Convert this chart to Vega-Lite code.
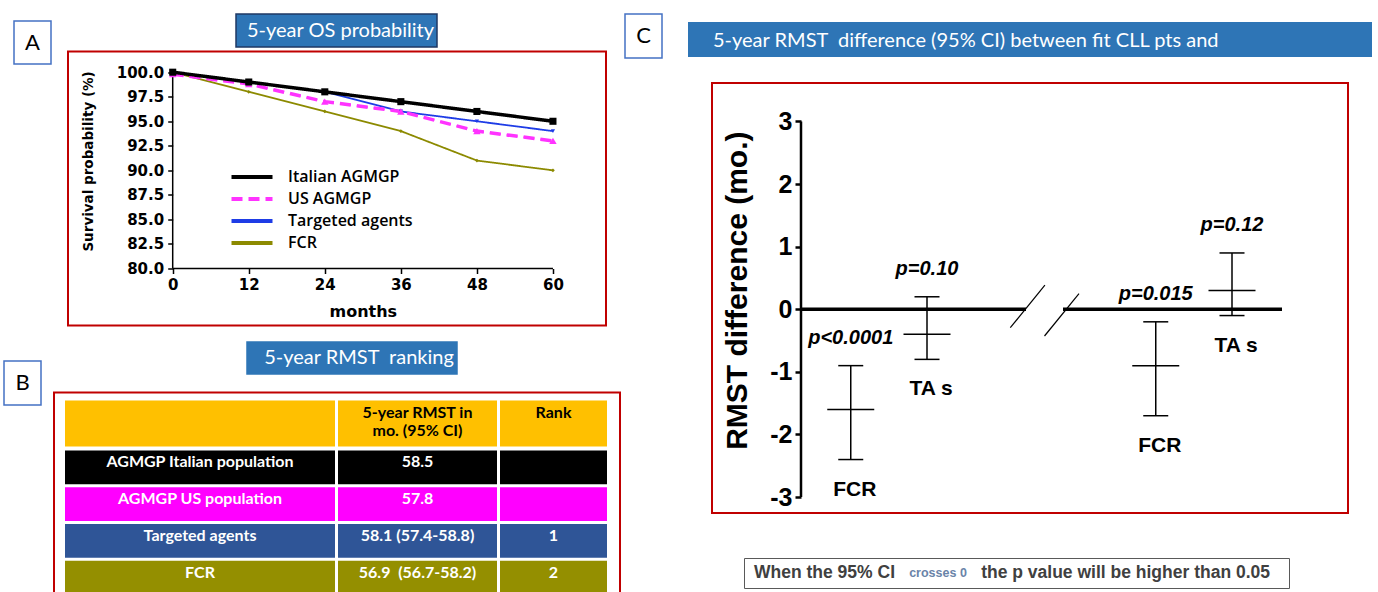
{
  "$schema": "https://vega.github.io/schema/vega-lite/v6.json",
  "background": "white",
  "padding": {"left": 3, "top": 13, "right": 0, "bottom": 0},
  "config": {"view": {"stroke": null}, "font": "Liberation Sans", "axis": {"labelOverlap": false}},
  "datasets": {
    "os": [
      {"series": "FCR", "month": 0, "survival": 100},
      {"series": "FCR", "month": 12, "survival": 98},
      {"series": "FCR", "month": 24, "survival": 96},
      {"series": "FCR", "month": 36, "survival": 94},
      {"series": "FCR", "month": 48, "survival": 91},
      {"series": "FCR", "month": 60, "survival": 90},
      {"series": "Targeted agents", "month": 0, "survival": 100},
      {"series": "Targeted agents", "month": 12, "survival": 99},
      {"series": "Targeted agents", "month": 24, "survival": 98},
      {"series": "Targeted agents", "month": 36, "survival": 96},
      {"series": "Targeted agents", "month": 48, "survival": 95},
      {"series": "Targeted agents", "month": 60, "survival": 94},
      {"series": "US AGMGP", "month": 0, "survival": 99.8},
      {"series": "US AGMGP", "month": 12, "survival": 98.8},
      {"series": "US AGMGP", "month": 24, "survival": 97},
      {"series": "US AGMGP", "month": 36, "survival": 96},
      {"series": "US AGMGP", "month": 48, "survival": 94},
      {"series": "US AGMGP", "month": 60, "survival": 93},
      {"series": "Italian AGMGP", "month": 0, "survival": 100},
      {"series": "Italian AGMGP", "month": 12, "survival": 99},
      {"series": "Italian AGMGP", "month": 24, "survival": 98},
      {"series": "Italian AGMGP", "month": 36, "survival": 97},
      {"series": "Italian AGMGP", "month": 48, "survival": 96},
      {"series": "Italian AGMGP", "month": 60, "survival": 95}
    ],
    "rmst": [
      {"slot": "FCR vs Italian AGMGP", "arm": "FCR", "mean": -1.6, "lo": -2.4, "hi": -0.9, "p": "p<0.0001"},
      {"slot": "TA s vs Italian AGMGP", "arm": "TA s", "mean": -0.4, "lo": -0.8, "hi": 0.2, "p": "p=0.10"},
      {"slot": "FCR vs US AGMGP", "arm": "FCR", "mean": -0.9, "lo": -1.7, "hi": -0.2, "p": "p=0.015"},
      {"slot": "TA s vs US AGMGP", "arm": "TA s", "mean": 0.3, "lo": -0.1, "hi": 0.9, "p": "p=0.12"}
    ],
    "table": [
      {"row": "AGMGP Italian population", "rmst": "58.5", "rank": ""},
      {"row": "AGMGP US population", "rmst": "57.8", "rank": ""},
      {"row": "Targeted agents", "rmst": "58.1 (57.4-58.8)", "rank": "1"},
      {"row": "FCR", "rmst": "56.9\u00a0 (56.7-58.2)", "rank": "2"}
    ],
    "tableHeader": [
      {"group": "", "rmst": ["5-year RMST in", "mo. (95% CI)"], "rank": "Rank"}
    ]
  },
  "spacing": 3,
  "hconcat": [
    {
      "spacing": 14,
      "vconcat": [
        {
          "spacing": 0,
          "hconcat": [
            {"width": 9, "height": 1, "view": {"fill": "white", "stroke": null}, "data": {"values": []}, "mark": "point"},
            {
              "spacing": 0,
              "vconcat": [
                {"width": 37, "height": 6, "view": {"fill": "white", "stroke": null}, "data": {"values": []}, "mark": "point"},
                {"width": 37, "height": 43, "view": {"fill": "white", "stroke": "#4472C4", "strokeWidth": 1.5}, "data": {"values": [{}]}, "mark": {"type": "text", "text": "A", "font": "Lato", "fontSize": 22, "color": "black"}}
              ]
            },
            {"width": 15, "height": 1, "view": {"fill": "white", "stroke": null}, "data": {"values": []}, "mark": "point"},
            {
              "spacing": 2.5,
              "vconcat": [
                {
                  "spacing": 0,
                  "hconcat": [
                    {"width": 167, "height": 1, "view": {"fill": "white", "stroke": null}, "data": {"values": []}, "mark": "point"},
                    {"width": 201, "height": 33, "view": {"fill": "#2E75B6", "stroke": "#1F3864", "strokeWidth": 1.5}, "data": {"values": [{}]}, "mark": {"type": "text", "text": "5-year OS probability", "font": "Lato", "fontSize": 20, "color": "white", "dx": 4}}
                  ]
                },
                {
                  "width": 538,
                  "height": 274,
                  "view": {"fill": "white", "stroke": "#C00000", "strokeWidth": 2},
                  "layer": [
                    {
                      "data": {"values": [{}]},
                      "mark": {"type": "rule", "color": "black", "strokeWidth": 1.5},
                      "encoding": {
                        "x": {"datum": 0, "type": "quantitative", "scale": {"domain": [-16.52, 68.37], "nice": false, "zero": false},
                          "axis": {"orient": "bottom", "offset": -57, "values": [0, 12, 24, 36, 48, 60], "tickCount": 20, "domain": false, "grid": false, "tickSize": 5, "tickWidth": 1.5, "tickColor": "black", "labelFont": "DejaVu Sans", "labelFontWeight": "bold", "labelFontSize": 15, "labelColor": "black", "labelPadding": 4, "labelFlush": false, "labelOverlap": false, "title": "months", "titleFont": "DejaVu Sans", "titleFontWeight": "bold", "titleFontSize": 16, "titleColor": "black", "titleX": 294.8, "titleY": 43, "titleBaseline": "middle"}},
                        "y": {"datum": 80, "type": "quantitative", "scale": {"domain": [74.193, 102.109], "nice": false, "zero": false},
                          "axis": {"orient": "left", "offset": -104.7, "values": [80, 82.5, 85, 87.5, 90, 92.5, 95, 97.5, 100], "tickCount": 20, "format": ".1f", "domain": false, "grid": false, "tickSize": 5, "tickWidth": 1.5, "tickColor": "black", "labelFont": "DejaVu Sans", "labelFontWeight": "bold", "labelFontSize": 15, "labelColor": "black", "labelPadding": 4, "labelFlush": false, "labelOverlap": false, "labelBound": false, "title": "Survival probability (%)", "titleFont": "DejaVu Sans", "titleFontWeight": "bold", "titleFontSize": 13.5, "titleColor": "black", "titleX": -84.4, "titleY": 109.4, "titleBaseline": "middle"}},
                        "y2": {"datum": 100}
                      }
                    },
                    {
                      "data": {"values": [{}]},
                      "mark": {"type": "rule", "color": "black", "strokeWidth": 1.5},
                      "encoding": {
                        "x": {"datum": 0, "type": "quantitative", "scale": {"domain": [-16.52, 68.37], "nice": false, "zero": false}},
                        "x2": {"datum": 60},
                        "y": {"datum": 80, "type": "quantitative", "scale": {"domain": [74.193, 102.109], "nice": false, "zero": false}}
                      }
                    },
                    {
                      "data": {"name": "os"},
                      "mark": {"type": "line", "strokeWidth": 1.8},
                      "encoding": {
                        "x": {"field": "month", "type": "quantitative", "scale": {"domain": [-16.52, 68.37], "nice": false, "zero": false}},
                        "y": {"field": "survival", "type": "quantitative", "scale": {"domain": [74.193, 102.109], "nice": false, "zero": false}},
                        "color": {
                          "field": "series", "type": "nominal",
                          "scale": {"domain": ["Italian AGMGP", "US AGMGP", "Targeted agents", "FCR"], "range": ["#000000", "#FF33FF", "#1E3CE6", "#8C8A00"]},
                          "legend": {"orient": "none", "legendX": 240, "legendY": 155, "title": null, "symbolType": "M-4.1,0H4.1", "symbolSize": 100, "symbolStrokeWidth": 4, "labelFont": "Open Sans", "labelFontWeight": 600, "labelFontSize": 16, "labelColor": "black", "labelOffset": 28, "rowPadding": 6, "padding": 0}
                        },
                        "strokeDash": {
                          "field": "series", "type": "nominal",
                          "scale": {"domain": ["Italian AGMGP", "US AGMGP", "Targeted agents", "FCR"], "range": [[1, 0], [11, 6], [1, 0], [1, 0]]}
                        }
                      }
                    },
                    {
                      "data": {"name": "os"},
                      "transform": [{"filter": {"field": "series", "oneOf": ["Italian AGMGP", "US AGMGP"]}}],
                      "mark": {"type": "line", "strokeWidth": 3.5},
                      "encoding": {
                        "x": {"field": "month", "type": "quantitative", "scale": {"domain": [-16.52, 68.37], "nice": false, "zero": false}},
                        "y": {"field": "survival", "type": "quantitative", "scale": {"domain": [74.193, 102.109], "nice": false, "zero": false}},
                        "color": {
                          "field": "series", "type": "nominal",
                          "scale": {"domain": ["Italian AGMGP", "US AGMGP", "Targeted agents", "FCR"], "range": ["#000000", "#FF33FF", "#1E3CE6", "#8C8A00"]},
                          "legend": {"orient": "none", "legendX": 240, "legendY": 155, "title": null, "symbolType": "M-4.1,0H4.1", "symbolSize": 100, "symbolStrokeWidth": 4, "labelFont": "Open Sans", "labelFontWeight": 600, "labelFontSize": 16, "labelColor": "black", "labelOffset": 28, "rowPadding": 6, "padding": 0}
                        },
                        "strokeDash": {
                          "field": "series", "type": "nominal",
                          "scale": {"domain": ["Italian AGMGP", "US AGMGP", "Targeted agents", "FCR"], "range": [[1, 0], [11, 6], [1, 0], [1, 0]]}
                        }
                      }
                    },
                    {
                      "data": {"name": "os"},
                      "transform": [{"filter": {"field": "series", "equal": "FCR"}}],
                      "mark": {"type": "point", "filled": true, "opacity": 1, "size": 14, "shape": "diamond", "color": "#8C8A00"},
                      "encoding": {
                        "x": {"field": "month", "type": "quantitative", "scale": {"domain": [-16.52, 68.37], "nice": false, "zero": false}},
                        "y": {"field": "survival", "type": "quantitative", "scale": {"domain": [74.193, 102.109], "nice": false, "zero": false}}
                      }
                    },
                    {
                      "data": {"name": "os"},
                      "transform": [{"filter": {"field": "series", "equal": "Targeted agents"}}],
                      "mark": {"type": "point", "filled": true, "opacity": 1, "size": 18, "shape": "triangle-down", "color": "#1E3CE6"},
                      "encoding": {
                        "x": {"field": "month", "type": "quantitative", "scale": {"domain": [-16.52, 68.37], "nice": false, "zero": false}},
                        "y": {"field": "survival", "type": "quantitative", "scale": {"domain": [74.193, 102.109], "nice": false, "zero": false}}
                      }
                    },
                    {
                      "data": {"name": "os"},
                      "transform": [{"filter": {"field": "series", "equal": "US AGMGP"}}],
                      "mark": {"type": "point", "filled": true, "opacity": 1, "size": 55, "shape": "triangle-up", "color": "#FF33FF"},
                      "encoding": {
                        "x": {"field": "month", "type": "quantitative", "scale": {"domain": [-16.52, 68.37], "nice": false, "zero": false}},
                        "y": {"field": "survival", "type": "quantitative", "scale": {"domain": [74.193, 102.109], "nice": false, "zero": false}}
                      }
                    },
                    {
                      "data": {"name": "os"},
                      "transform": [{"filter": {"field": "series", "equal": "Italian AGMGP"}}],
                      "mark": {"type": "point", "filled": true, "opacity": 1, "size": 50, "shape": "square", "color": "#000000"},
                      "encoding": {
                        "x": {"field": "month", "type": "quantitative", "scale": {"domain": [-16.52, 68.37], "nice": false, "zero": false}},
                        "y": {"field": "survival", "type": "quantitative", "scale": {"domain": [74.193, 102.109], "nice": false, "zero": false}}
                      }
                    }
                  ]
                }
              ]
            }
          ]
        },
        {
          "spacing": 0,
          "hconcat": [
            {
              "spacing": 0,
              "vconcat": [
                {"width": 37, "height": 18, "view": {"fill": "white", "stroke": null}, "data": {"values": []}, "mark": "point"},
                {"width": 37, "height": 44, "view": {"fill": "white", "stroke": "#4472C4", "strokeWidth": 1.5}, "data": {"values": [{}]}, "mark": {"type": "text", "text": "B", "font": "Lato", "fontSize": 22, "color": "black"}}
              ]
            },
            {"width": 11, "height": 1, "view": {"fill": "white", "stroke": null}, "data": {"values": []}, "mark": "point"},
            {
              "spacing": 16.5,
              "vconcat": [
                {
                  "spacing": 0,
                  "hconcat": [
                    {"width": 192, "height": 1, "view": {"fill": "white", "stroke": null}, "data": {"values": []}, "mark": "point"},
                    {"width": 210, "height": 32, "view": {"fill": "#2E75B6", "stroke": "#2E75B6", "strokeWidth": 1.5}, "data": {"values": [{}]}, "mark": {"type": "text", "text": "5-year RMST\u00a0 ranking", "font": "Lato", "fontSize": 20, "color": "white", "dx": 7}}
                  ]
                },
                {
                  "width": 566,
                  "height": 215,
                  "view": {"fill": "white", "stroke": "#C00000", "strokeWidth": 2},
                  "resolve": {"scale": {"x": "independent", "y": "independent"}},
                  "layer": [
                    {
                      "encoding": {"x": {"datum": "AGMGP group", "type": "nominal", "scale": {"type": "band", "domain": ["AGMGP group"], "range": [11, 281], "paddingInner": 0, "paddingOuter": 0}, "axis": null}},
                      "resolve": {"scale": {"y": "independent"}},
                      "layer": [
                        {
                          "data": {"name": "tableHeader"},
                          "mark": {"type": "rect", "color": "#FFC000"},
                          "encoding": {"y": {"datum": "header", "type": "nominal", "scale": {"type": "band", "domain": ["header"], "range": [8, 54], "paddingInner": 0, "paddingOuter": 0}, "axis": null}}
                        },
                        {
                          "data": {"name": "table"},
                          "encoding": {"y": {"field": "row", "type": "nominal", "scale": {"type": "band", "domain": ["AGMGP Italian population", "AGMGP US population", "Targeted agents", "FCR"], "range": [58, 202], "paddingInner": 0.08163, "paddingOuter": 0}, "axis": null}},
                          "layer": [
                            {"mark": {"type": "rect"}, "encoding": {"fill": {"field": "row", "type": "nominal", "scale": {"domain": ["AGMGP Italian population", "AGMGP US population", "Targeted agents", "FCR"], "range": ["#000000", "#FF00FF", "#2F5597", "#948F00"]}, "legend": null}}},
                            {"mark": {"type": "text", "font": "Lato", "fontWeight": "bold", "fontSize": 16, "color": "white", "dy": -5}, "encoding": {"text": {"field": "row", "type": "nominal"}}}
                          ]
                        }
                      ]
                    },
                    {
                      "encoding": {"x": {"datum": "5-year RMST in mo. (95% CI)", "type": "nominal", "scale": {"type": "band", "domain": ["5-year RMST in mo. (95% CI)"], "range": [284, 443], "paddingInner": 0, "paddingOuter": 0}, "axis": null}},
                      "resolve": {"scale": {"y": "independent"}},
                      "layer": [
                        {
                          "data": {"name": "tableHeader"},
                          "encoding": {"y": {"datum": "header", "type": "nominal", "scale": {"type": "band", "domain": ["header"], "range": [8, 54], "paddingInner": 0, "paddingOuter": 0}, "axis": null}},
                          "layer": [
                            {"mark": {"type": "rect", "color": "#FFC000"}},
                            {"mark": {"type": "text", "font": "Lato", "fontWeight": "bold", "fontSize": 16, "color": "black", "baseline": "top", "dy": -18.5, "lineHeight": 18}, "encoding": {"text": {"field": "rmst", "type": "nominal"}}}
                          ]
                        },
                        {
                          "data": {"name": "table"},
                          "encoding": {"y": {"field": "row", "type": "nominal", "scale": {"type": "band", "domain": ["AGMGP Italian population", "AGMGP US population", "Targeted agents", "FCR"], "range": [58, 202], "paddingInner": 0.08163, "paddingOuter": 0}, "axis": null}},
                          "layer": [
                            {"mark": {"type": "rect"}, "encoding": {"fill": {"field": "row", "type": "nominal", "scale": {"domain": ["AGMGP Italian population", "AGMGP US population", "Targeted agents", "FCR"], "range": ["#000000", "#FF00FF", "#2F5597", "#948F00"]}, "legend": null}}},
                            {"mark": {"type": "text", "font": "Lato", "fontWeight": "bold", "fontSize": 16, "color": "white", "dy": -5}, "encoding": {"text": {"field": "rmst", "type": "nominal"}}}
                          ]
                        }
                      ]
                    },
                    {
                      "encoding": {"x": {"datum": "Rank", "type": "nominal", "scale": {"type": "band", "domain": ["Rank"], "range": [446, 553], "paddingInner": 0, "paddingOuter": 0}, "axis": null}},
                      "resolve": {"scale": {"y": "independent"}},
                      "layer": [
                        {
                          "data": {"name": "tableHeader"},
                          "encoding": {"y": {"datum": "header", "type": "nominal", "scale": {"type": "band", "domain": ["header"], "range": [8, 54], "paddingInner": 0, "paddingOuter": 0}, "axis": null}},
                          "layer": [
                            {"mark": {"type": "rect", "color": "#FFC000"}},
                            {"mark": {"type": "text", "font": "Lato", "fontWeight": "bold", "fontSize": 16, "color": "black", "baseline": "top", "dy": -18.5}, "encoding": {"text": {"field": "rank", "type": "nominal"}}}
                          ]
                        },
                        {
                          "data": {"name": "table"},
                          "encoding": {"y": {"field": "row", "type": "nominal", "scale": {"type": "band", "domain": ["AGMGP Italian population", "AGMGP US population", "Targeted agents", "FCR"], "range": [58, 202], "paddingInner": 0.08163, "paddingOuter": 0}, "axis": null}},
                          "layer": [
                            {"mark": {"type": "rect"}, "encoding": {"fill": {"field": "row", "type": "nominal", "scale": {"domain": ["AGMGP Italian population", "AGMGP US population", "Targeted agents", "FCR"], "range": ["#000000", "#FF00FF", "#2F5597", "#948F00"]}, "legend": null}}},
                            {"mark": {"type": "text", "font": "Lato", "fontWeight": "bold", "fontSize": 16, "color": "white", "dy": -5}, "encoding": {"text": {"field": "rank", "type": "nominal"}}}
                          ]
                        }
                      ]
                    }
                  ]
                }
              ]
            }
          ]
        }
      ]
    },
    {
      "spacing": 23,
      "vconcat": [
        {
          "spacing": 25,
          "hconcat": [
            {"width": 37, "height": 44, "view": {"fill": "white", "stroke": "#4472C4", "strokeWidth": 1.5}, "data": {"values": [{}]}, "mark": {"type": "text", "text": "C", "font": "Lato", "fontSize": 22, "color": "black"}},
            {
              "spacing": 0,
              "vconcat": [
                {"width": 684, "height": 8, "view": {"fill": "white", "stroke": null}, "data": {"values": []}, "mark": "point"},
                {"width": 684, "height": 35, "view": {"fill": "#2E75B6", "stroke": null}, "data": {"values": [{}]}, "mark": {"type": "text", "text": "5-year RMST\u00a0 difference (95% CI) between fit CLL pts and", "font": "Lato", "fontSize": 20, "color": "white", "align": "left", "dx": -317, "dy": 1}}
              ]
            }
          ]
        },
        {
          "spacing": 43,
          "vconcat": [
            {
              "spacing": 0,
              "hconcat": [
                {"width": 86, "height": 1, "view": {"fill": "white", "stroke": null}, "data": {"values": []}, "mark": "point"},
                {
                  "width": 636,
                  "height": 430,
                  "view": {"fill": "white", "stroke": "#C00000", "strokeWidth": 2},
                  "resolve": {"scale": {"x": "independent"}},
                  "layer": [
                    {
                      "data": {"values": [{}]},
                      "layer": [
                        {
                          "mark": {"type": "rule", "color": "black", "strokeWidth": 2.5},
                          "encoding": {
                            "x": {"datum": -0.6525, "type": "quantitative", "scale": {"domain": [-1.8197, 6.5213], "nice": false, "zero": false}, "axis": null},
                            "y": {"datum": -3, "type": "quantitative", "scale": {"domain": [-3.254, 3.615], "nice": false, "zero": false},
                              "axis": {"orient": "left", "offset": -89, "values": [-3, -2, -1, 0, 1, 2, 3], "tickCount": 20, "labelExpr": "'' + datum.value", "domain": false, "grid": false, "tickSize": 6, "tickWidth": 2.5, "tickColor": "black", "labelFont": "Liberation Sans", "labelFontWeight": "bold", "labelFontSize": 25, "labelColor": "black", "labelPadding": 3, "labelFlush": false, "labelOverlap": false, "title": "RMST difference (mo.)", "titleFont": "Liberation Sans", "titleFontWeight": "bold", "titleFontSize": 30, "titleColor": "black", "titleX": -64, "titleY": 207.2, "titleBaseline": "middle"}},
                            "y2": {"datum": 3}
                          }
                        },
                        {
                          "mark": {"type": "rule", "color": "black", "strokeWidth": 3.5},
                          "encoding": {
                            "x": {"datum": -0.6525, "type": "quantitative", "scale": {"domain": [-1.8197, 6.5213], "nice": false, "zero": false}, "axis": null},
                            "x2": {"datum": 2.2984},
                            "y": {"datum": 0, "type": "quantitative", "scale": {"domain": [-3.254, 3.615], "nice": false, "zero": false}}
                          }
                        },
                        {
                          "mark": {"type": "rule", "color": "black", "strokeWidth": 3.5},
                          "encoding": {
                            "x": {"datum": 2.7836, "type": "quantitative", "scale": {"domain": [-1.8197, 6.5213], "nice": false, "zero": false}, "axis": null},
                            "x2": {"datum": 5.6557},
                            "y": {"datum": 0, "type": "quantitative", "scale": {"domain": [-3.254, 3.615], "nice": false, "zero": false}}
                          }
                        },
                        {
                          "mark": {"type": "rule", "color": "black", "strokeWidth": 1.2},
                          "encoding": {
                            "x": {"datum": 2.0925, "type": "quantitative", "scale": {"domain": [-1.8197, 6.5213], "nice": false, "zero": false}, "axis": null},
                            "x2": {"datum": 2.5462},
                            "y": {"datum": -0.294, "type": "quantitative", "scale": {"domain": [-3.254, 3.615], "nice": false, "zero": false}},
                            "y2": {"datum": 0.388}
                          }
                        },
                        {
                          "mark": {"type": "rule", "color": "black", "strokeWidth": 1.2},
                          "encoding": {
                            "x": {"datum": 2.541, "type": "quantitative", "scale": {"domain": [-1.8197, 6.5213], "nice": false, "zero": false}, "axis": null},
                            "x2": {"datum": 2.9934},
                            "y": {"datum": -0.4265, "type": "quantitative", "scale": {"domain": [-3.254, 3.615], "nice": false, "zero": false}},
                            "y2": {"datum": 0.249}
                          }
                        }
                      ]
                    },
                    {
                      "data": {"name": "rmst"},
                      "encoding": {
                        "x": {"field": "slot", "type": "nominal", "scale": {"type": "point", "domain": ["FCR vs Italian AGMGP", "TA s vs Italian AGMGP", "axis break a", "axis break b", "FCR vs US AGMGP", "TA s vs US AGMGP"], "range": [138.75, 520], "padding": 0}, "axis": null}
                      },
                      "layer": [
                        {
                          "mark": {"type": "rule", "color": "black", "strokeWidth": 1.5},
                          "encoding": {
                            "y": {"field": "lo", "type": "quantitative", "scale": {"domain": [-3.254, 3.615], "nice": false, "zero": false}},
                            "y2": {"field": "hi"}
                          }
                        },
                        {
                          "mark": {"type": "tick", "color": "black", "thickness": 1.5, "size": 25, "opacity": 1},
                          "encoding": {"y": {"field": "lo", "type": "quantitative", "scale": {"domain": [-3.254, 3.615], "nice": false, "zero": false}}}
                        },
                        {
                          "mark": {"type": "tick", "color": "black", "thickness": 1.5, "size": 25, "opacity": 1},
                          "encoding": {"y": {"field": "hi", "type": "quantitative", "scale": {"domain": [-3.254, 3.615], "nice": false, "zero": false}}}
                        },
                        {
                          "mark": {"type": "tick", "color": "black", "thickness": 1.5, "size": 47, "opacity": 1},
                          "encoding": {"y": {"field": "mean", "type": "quantitative", "scale": {"domain": [-3.254, 3.615], "nice": false, "zero": false}}}
                        },
                        {
                          "mark": {"type": "text", "font": "Liberation Sans", "fontWeight": "bold", "fontStyle": "italic", "fontSize": 20, "color": "black", "dy": -28},
                          "encoding": {
                            "y": {"field": "hi", "type": "quantitative", "scale": {"domain": [-3.254, 3.615], "nice": false, "zero": false}},
                            "text": {"field": "p", "type": "nominal"}
                          }
                        },
                        {
                          "mark": {"type": "text", "font": "Liberation Sans", "fontWeight": "bold", "fontSize": 21, "color": "black", "dy": 30, "dx": 4},
                          "encoding": {
                            "y": {"field": "lo", "type": "quantitative", "scale": {"domain": [-3.254, 3.615], "nice": false, "zero": false}},
                            "text": {"field": "arm", "type": "nominal"}
                          }
                        }
                      ]
                    }
                  ]
                }
              ]
            },
            {
              "spacing": 0,
              "hconcat": [
                {"width": 118, "height": 1, "view": {"fill": "white", "stroke": null}, "data": {"values": []}, "mark": "point"},
                {
                  "width": 545,
                  "height": 30,
                  "view": {"fill": "white", "stroke": "#595959", "strokeWidth": 1},
                  "data": {"values": [{}]},
                  "layer": [
                    {"mark": {"type": "text", "text": "When the 95% CI", "align": "left", "dx": -262.5, "font": "Liberation Sans", "fontWeight": "bold", "fontSize": 17.5, "color": "#404040"}},
                    {"mark": {"type": "text", "text": "crosses 0", "align": "center", "dx": -78.5, "font": "Liberation Sans Narrow, Liberation Sans", "fontWeight": "bold", "fontSize": 12.5, "color": "#6A84A8"}},
                    {"mark": {"type": "text", "text": "the p value will be higher than 0.05", "align": "right", "dx": 253.5, "font": "Liberation Sans", "fontWeight": "bold", "fontSize": 17.5, "color": "#404040"}}
                  ]
                }
              ]
            }
          ]
        }
      ]
    }
  ]
}
